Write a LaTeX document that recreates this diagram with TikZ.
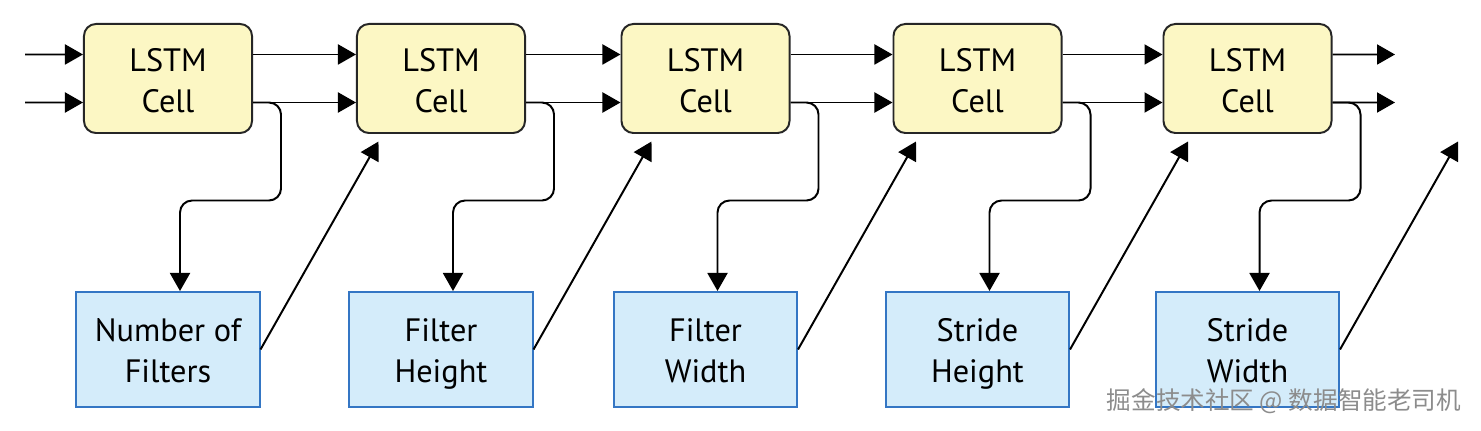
\documentclass[tikz,border=0pt]{standalone}
\usepackage{fontspec}
\setmainfont{PT Sans}
\newfontfamily\cjkfont{Noto Sans CJK SC}
\usetikzlibrary{arrows.meta}

\definecolor{cellfill}{RGB}{252,247,196}
\definecolor{paramfill}{RGB}{212,236,250}
\definecolor{paramdraw}{RGB}{52,118,196}

\tikzset{
  cell/.style={draw=black!85, line width=1.4pt, fill=cellfill, rounded corners=0.3cm,
    minimum width=4.2cm, minimum height=2.725cm, align=center,
    text height=1.875cm, text depth=0.2cm,
    font=\fontsize{23}{28.5}\selectfont},
  param/.style={draw=paramdraw, line width=1.4pt, fill=paramfill,
    minimum width=4.575cm, minimum height=2.875cm, align=center,
    text height=1.825cm, text depth=0.2cm,
    font=\fontsize{23}{28.5}\selectfont},
  link/.style={->, line width=1.4pt},
}

\begin{document}
\begin{tikzpicture}[>={Triangle[length=0.45cm, width=0.5cm]}, x=0.025cm, y=-0.025cm]
    \useasboundingbox (0,0) rectangle (1481,431);

    % Cells and hyperparameters
    \foreach \i/\x/\txt in {1/168/{Number of\\Filters}, 2/441/{Filter\\Height},
        3/705.5/{Filter\\Width}, 4/977.5/{Stride\\Height}, 5/1247.5/{Stride\\Width}} {
      \node[cell] (cell\i) at (\x,78.5) {LSTM\\Cell};
      \node[param] (param\i) at (\x,349.5) {\txt};
    }

    % Inputs and outputs
    \coordinate (inA) at (25,54.5);
    \coordinate (inB) at (25,102.5);
    \coordinate (outA) at (1395,54.5);
    \coordinate (outB) at (1395,102.5);
    \draw[link] (inA) -- ([yshift=0.6cm]cell1.west);
    \draw[link] (inB) -- ([yshift=-0.6cm]cell1.west);
    \draw[link] ([yshift=0.6cm]cell5.east) -- (outA);
    \draw[link] ([yshift=-0.6cm]cell5.east) -- (outB);

    % Cell to cell
    \foreach \i [count=\j from 2] in {1,...,4} {
      \draw[link] ([yshift=0.6cm]cell\i.east) -- ([yshift=0.6cm]cell\j.west);
      \draw[link] ([yshift=-0.6cm]cell\i.east) -- ([yshift=-0.6cm]cell\j.west);
    }

    % Cell output to hyperparameter, and back up
    \foreach \i in {1,...,5} {
      \draw[link, rounded corners=0.3cm] ([yshift=-0.6cm]cell\i.east) -- ++(28,0)
          -- ++(0,98) -| ([xshift=0.3cm]param\i.north);
      \path (param\i.east) ++(118,-208) coordinate (tip\i);
      \draw[link] (param\i.east) -- (tip\i);
    }

    % Watermark
    \node[anchor=east, text=black!45, font=\cjkfont\fontsize{17.5}{17.5}\selectfont]
        (mark) at (1466,401) {掘金技术社区 @ 数据智能老司机};

\end{tikzpicture}
\end{document}
